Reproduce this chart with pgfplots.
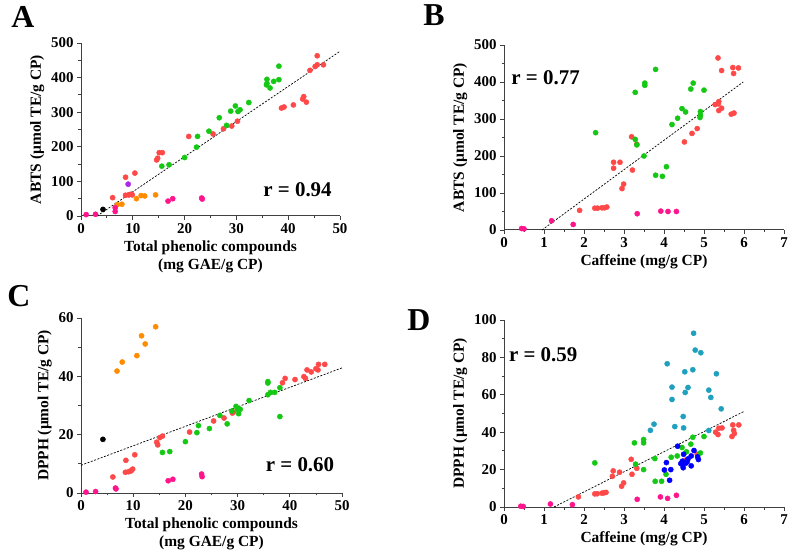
\documentclass[border=0pt]{standalone}
\usepackage{fontspec}
\setmainfont{Liberation Serif}
\usepackage{pgfplots}
\pgfplotsset{compat=1.18}
\definecolor{cred}{RGB}{255,72,72}
\definecolor{cgreen}{RGB}{20,200,20}
\definecolor{cpink}{RGB}{255,20,140}
\definecolor{corange}{RGB}{255,140,0}
\definecolor{cpurple}{RGB}{170,40,230}
\definecolor{cteal}{RGB}{30,160,190}
\definecolor{cblue}{RGB}{0,0,255}
\pgfplotsset{
  panel/.style={
    scale only axis,
    axis x line=bottom, axis y line=left,
    axis line style={-, black!75, line width=1bp},
    tick align=outside,
    major tick length=4bp, minor tick length=2.5bp,
    every tick/.style={black!75, line width=0.8bp},
    minor tick num=1,
    ticklabel style={font=\bfseries\fontsize{15}{15}\selectfont},
    /pgf/number format/assume math mode=true,
    label style={font=\bfseries\fontsize{15.5}{18}\selectfont, align=center},
    clip=false,
    xmin=0, ymin=0,
    anchor=south west,
  },
  dot/.style={only marks, mark=*, mark size=2.6bp, color=#1, mark options={solid, fill=#1, draw=#1, line width=0.4bp}},
  trend/.style={black, line width=0.7bp, dash pattern=on 2bp off 1.5bp},
}
\newcommand{\rtext}[1]{\fontsize{21}{21}\selectfont\bfseries #1}
\begin{document}
\begin{tikzpicture}
\useasboundingbox (0bp,0bp) rectangle (789bp,553bp);
% ---------------- A ----------------
\begin{axis}[panel, at={(81bp,337bp)}, width=259bp, height=173bp,
  xmax=50, ymax=500, xtick={0,10,...,50}, ytick={0,100,...,500},
  xlabel={Total phenolic compounds\\(mg GAE/g CP)},
  ylabel={ABTS (µmol TE/g CP)}]
\addplot[trend] coordinates {(3.1,0) (50,476)};
\addplot[dot=cred] coordinates {(6.1,53) (8.6,112) (8.6,60) (9.2,61) (9.4,62) (9.7,63) (9.9,61) (10.4,124) (14.6,162) (14.8,167) (15.1,183) (15.7,183) (20.8,230) (25.5,237) (27.5,252) (29.1,260) (30.2,274) (38.7,312) (39.2,315) (41.0,321) (42.8,338) (43.0,345) (43.5,329) (44.2,421) (45.2,432) (45.6,437) (45.6,463) (46.8,437)};
\addplot[dot=cgreen] coordinates {(15.6,144) (17.0,148) (20.0,169) (22.3,199) (22.5,230) (24.7,245) (26.7,284) (28.1,262) (28.9,303) (29.8,318) (30.3,302) (30.7,307) (32.4,328) (35.8,379) (35.9,395) (35.9,383) (36.5,370) (37.2,389) (38.2,394) (38.2,433)};
\addplot[dot=corange] coordinates {(7.0,33) (7.9,34) (10.7,50) (11.6,59) (12.3,58) (14.4,61)};
\addplot[dot=cpink] coordinates {(1.0,4) (2.8,5) (6.6,24) (6.6,13) (16.8,43) (17.7,50) (23.3,52) (23.4,49)};
\addplot[dot=black] coordinates {(4.25,19)};
\addplot[dot=cpurple] coordinates {(9.1,92)};
\node at (axis cs:41.8,75) {\rtext{r = 0.94}};
\end{axis}
% ---------------- B ----------------
\begin{axis}[panel, at={(504bp,323bp)}, width=280bp, height=185bp,
  xmax=7, ymax=500, xtick={0,...,7}, ytick={0,100,...,500},
  xlabel={Caffeine (mg/g CP)},
  ylabel={ABTS (µmol TE/g CP)}]
\addplot[trend] coordinates {(0.95,0) (5.98,400)};
\addplot[dot=cred] coordinates {(1.89,53) (2.27,59) (2.34,59) (2.45,60) (2.51,60) (2.57,62) (2.74,167) (2.74,183) (2.9,183) (2.95,112) (2.99,124) (3.19,252) (3.21,162) (3.32,232) (4.51,238) (4.7,261) (4.83,274) (5.28,339) (5.36,341) (5.37,347) (5.37,323) (5.44,329) (5.35,465) (5.44,431) (5.68,313) (5.75,316) (5.72,439) (5.74,423) (5.86,438)};
\addplot[dot=cgreen] coordinates {(2.29,263) (3.28,372) (3.28,245) (3.32,230) (3.5,200) (3.52,397) (3.52,391) (3.79,434) (3.79,148) (3.96,145) (4.06,171) (4.2,285) (4.34,302) (4.45,328) (4.54,319) (4.67,381) (4.73,397) (5.0,378) (4.91,320) (4.91,310) (4.9,304)};
\addplot[dot=cpink] coordinates {(0.44,4) (0.5,3) (1.19,25) (1.73,15) (3.33,44) (3.92,51) (4.1,50) (4.31,50)};
\node at (axis cs:1.04,412) {\rtext{r = 0.77}};
\end{axis}
% ---------------- C ----------------
\begin{axis}[panel, at={(81bp,60bp)}, width=261bp, height=175bp,
  xmax=50, ymax=60, xtick={0,10,...,50}, ytick={0,20,40,60},
  xlabel={Total phenolic compounds\\(mg GAE/g CP)},
  ylabel={DPPH (µmol TE/g CP)}]
\addplot[trend] coordinates {(0,9.5) (50,42.9)};
\addplot[dot=cred] coordinates {(6.1,5.5) (8.5,7.1) (8.6,11.2) (9.1,7.3) (9.5,7.5) (9.7,7.8) (9.9,8.2) (10.3,13.1) (14.5,17.4) (14.7,16.5) (15.1,19) (15.6,19.5) (20.8,20.9) (25.4,24.7) (27.4,25.7) (29,27.4) (29.2,27.8) (38.6,37.8) (39.1,39.3) (41,38.9) (42.7,39.9) (43,39.3) (43.3,42.2) (44.1,41.5) (45,42.6) (45.4,42.2) (45.5,44.1) (46.7,44.1)};
\addplot[dot=cgreen] coordinates {(15.6,13.9) (17,14.2) (20,17.6) (22.5,23.1) (22.2,20.7) (24.6,22.1) (26.6,26.6) (28,23.7) (28.9,28.1) (29.7,29.7) (30,28.7) (30.2,27.2) (30.5,28.7) (32.2,31.7) (35.8,37.7) (35.8,38.2) (35.8,33.7) (36.3,34.5) (37.1,34.5) (38.1,36.1) (38.1,26.2)};
\addplot[dot=corange] coordinates {(6.9,41.8) (7.9,44.9) (10.7,47.1) (11.6,53.9) (12.3,51.1) (14.3,57.0)};
\addplot[dot=cpink] coordinates {(0.96,0.3) (2.8,0.5) (6.6,1.7) (6.7,1.4) (16.7,4.2) (17.6,4.7) (23.1,6.5) (23.2,5.6)};
\addplot[dot=black] coordinates {(4.2,18.4)};
\node at (axis cs:41.95,9.8) {\rtext{r = 0.60}};
\end{axis}
% ---------------- D ----------------
\begin{axis}[panel, at={(504bp,46bp)}, width=280bp, height=187bp,
  xmax=7, ymax=100, xtick={0,...,7}, ytick={0,20,...,100},
  xlabel={Caffeine (mg/g CP)},
  ylabel={DPPH (µmol TE/g CP)}]
\addplot[trend] coordinates {(1.25,0) (6,51.1)};
\addplot[dot=cred] coordinates {(1.86,5.4) (2.27,7) (2.33,7.1) (2.45,7.4) (2.5,7.6) (2.55,7.8) (2.73,19.3) (2.71,16.4) (2.89,18.6) (2.94,11.1) (2.99,12.9) (3.18,25.5) (3.2,17.5) (3.32,20.7) (4.53,25) (4.83,28.2) (5.29,40) (5.35,38.75) (5.37,42.1) (5.45,42.3) (5.7,37.7) (5.76,39.3) (5.72,43.9) (5.74,41) (5.87,43.9)};
\addplot[dot=cgreen] coordinates {(2.27,23.6) (3.26,34.3) (3.29,22.9) (3.49,36.1) (3.49,34.3) (3.49,20) (3.77,25.9) (3.78,13.75) (3.94,13.75) (4.05,17.5) (4.18,26.6) (4.33,27.3) (4.45,31.8) (4.56,29.5) (4.67,33.6) (4.72,37.3) (4.91,28.9) (5.0,37.7)};
\addplot[dot=cteal] coordinates {(3.66,41) (3.75,44.3) (4.08,76.6) (4.2,64.1) (4.2,57.5) (4.27,43) (4.48,48.4) (4.49,42.3) (4.52,72.3) (4.53,61.25) (4.6,63.9) (4.72,73.4) (4.74,92.9) (4.78,83.9) (4.92,82.5) (5.12,62.5) (5.17,58.6) (5.31,71.25) (5.12,40.9) (5.43,52.5)};
\addplot[dot=cblue] coordinates {(4.01,19.8) (4.06,23.75) (4.17,20) (4.14,14.3) (4.34,32.5) (4.42,23.2) (4.46,24.5) (4.47,22.5) (4.48,21) (4.49,28.2) (4.55,23.5) (4.58,24.2) (4.6,25.7) (4.68,22) (4.68,27.3) (4.75,30.2) (4.84,26.8) (4.86,25.4)};
\addplot[dot=cpink] coordinates {(0.42,0.4) (0.48,0.3) (1.16,1.6) (1.71,1.25) (3.33,4.1) (3.91,5.4) (4.09,4.6) (4.31,6.25)};
\node at (axis cs:0.98,81.3) {\rtext{r = 0.59}};
\end{axis}
% panel letters
\node[font=\bfseries\fontsize{32}{32}\selectfont] at (23bp,536bp) {A};
\node[font=\bfseries\fontsize{32}{32}\selectfont] at (434bp,538bp) {B};
\node[font=\bfseries\fontsize{32}{32}\selectfont] at (19bp,257bp) {C};
\node[font=\bfseries\fontsize{32}{32}\selectfont] at (419bp,233bp) {D};
\end{tikzpicture}
\end{document}
